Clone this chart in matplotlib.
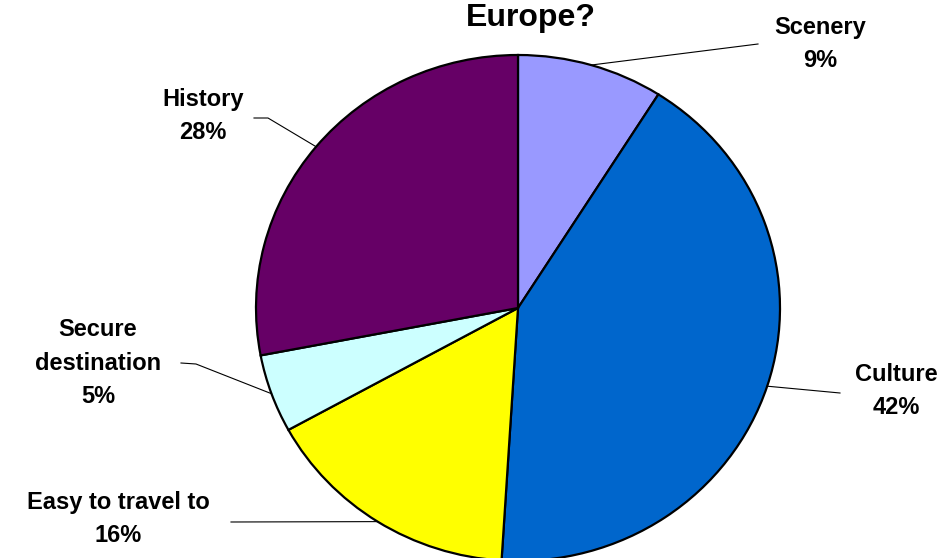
import matplotlib.pyplot as plt
import numpy as np
from matplotlib.lines import Line2D

plt.rcParams['font.family'] = ['Liberation Sans', 'DejaVu Sans']

labels = ["Scenery", "Culture", "Easy to travel to", "Secure\ndestination", "History"]
shares = [9, 42, 16, 5, 28]
colors = ["#9999FF", "#0066CC", "#FFFF00", "#CCFFFF", "#660066"]

W, H = 950, 558
fig = plt.figure(figsize=(W / 100, H / 100), dpi=100)

def fx(x, y):
    return x / W, 1 - y / H

# pie centre and radii in pixels (slightly wider than tall)
cx, cy, rx, ry = 518, 308, 262, 253
ax = fig.add_axes([(cx - rx) / W, (H - cy - ry) / H, 2 * rx / W, 2 * ry / H])
wedges, _ = ax.pie(shares, colors=colors, startangle=90, counterclock=False,
                   wedgeprops=dict(edgecolor="black", linewidth=1.6))
ax.set_aspect("auto")
ax.set_xlim(-1, 1)
ax.set_ylim(-1, 1)
ax.axis("off")

# label text centres and leader-line anchors (pixels)
label_pos = [(820, 44), (896, 391), (118, 519), (98, 363), (203, 116)]
leaders = [[(758, 44)], [(840, 393)], [(231, 522)], [(181, 363), (196, 364)], [(254, 118), (268, 118)]]

for w, lab, v, (lx, ly), pts in zip(wedges, labels, shares, label_pos, leaders):
    mid = np.deg2rad((w.theta1 + w.theta2) / 2)
    ex = cx + rx * np.cos(mid)
    ey = cy - ry * np.sin(mid)
    path = pts + [(ex, ey)]
    xs, ys = zip(*[fx(x, y) for x, y in path])
    fig.add_artist(Line2D(xs, ys, color="black", linewidth=0.8, transform=fig.transFigure))
    fig.text(*fx(lx, ly), f"{lab}\n{v}%", ha="center", va="center",
             fontsize=17, fontweight="bold", linespacing=1.6)

fig.text(*fx(531, 26), "Europe?", ha="center", va="baseline", fontsize=23, fontweight="bold")

fig.savefig("out.png", dpi=100, facecolor="white")
